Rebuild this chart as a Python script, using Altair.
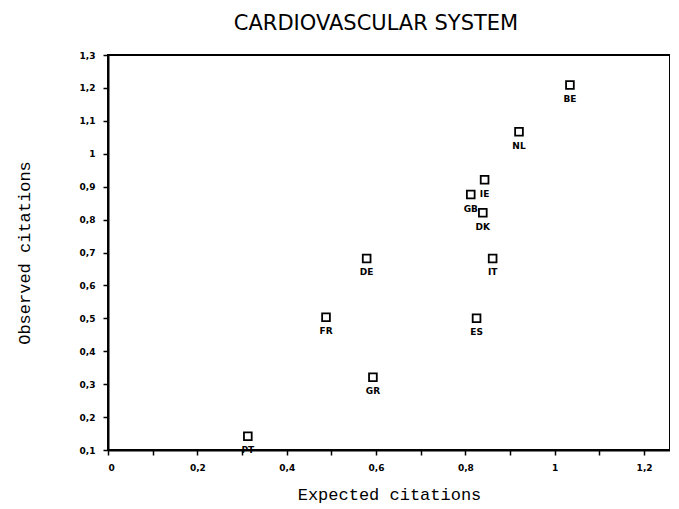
import altair as alt
import pandas as pd

countries = ["PT", "FR", "GR", "DE", "BE", "NL", "IE", "GB", "DK", "IT", "ES"]
expected = [0.313, 0.488, 0.593, 0.579, 1.034, 0.920, 0.843, 0.812, 0.839, 0.861, 0.825]
observed = [0.142, 0.503, 0.321, 0.682, 1.209, 1.067, 0.921, 0.876, 0.821, 0.682, 0.500]

x_ticks = [0, 0.1, 0.2, 0.3, 0.4, 0.5, 0.6, 0.7, 0.8, 0.9, 1.0, 1.1, 1.2]
y_ticks = [0.1, 0.2, 0.3, 0.4, 0.5, 0.6, 0.7, 0.8, 0.9, 1.0, 1.1, 1.2, 1.3]

df = pd.DataFrame({"country": countries, "expected": expected, "observed": observed})

mono = "Liberation Mono"

x = alt.X(
    "expected:Q",
    scale=alt.Scale(domain=[0, 1.258], nice=False, zero=False),
    axis=alt.Axis(
        title="Expected citations",
        values=x_ticks,
        labelExpr="round(datum.value*10)%2==0 ? replace(format(datum.value,'.1~f'),'.',',') : ''",
        labelOverlap=False,
        grid=False,
        domainColor="black",
        domainWidth=2,
        tickColor="black",
        tickWidth=1.5,
        tickSize=5,
        labelFont="DejaVu Sans",
        labelFontSize=9,
        labelFontWeight="bold",
        labelColor="black",
        labelPadding=8,
        titleFont=mono,
        titleFontSize=17,
        titleFontWeight="normal",
        titleColor="black",
        titleY=44,
        titleBaseline="middle",
    ),
)
y = alt.Y(
    "observed:Q",
    scale=alt.Scale(domain=[0.1, 1.3], nice=False, zero=False),
    axis=alt.Axis(
        title="Observed citations",
        values=y_ticks,
        labelExpr="replace(format(datum.value,'.1~f'),'.',',')",
        labelOverlap=False,
        grid=False,
        domainColor="black",
        domainWidth=2,
        tickColor="black",
        tickWidth=1.5,
        tickSize=5,
        labelFont="DejaVu Sans",
        labelFontSize=9,
        labelFontWeight="bold",
        labelColor="black",
        labelPadding=8,
        titleFont=mono,
        titleFontSize=17,
        titleFontWeight="normal",
        titleColor="black",
        titleX=-84,
        titleBaseline="middle",
    ),
)

base = alt.Chart(df)
points = base.mark_point(shape="square", filled=False, color="black", strokeWidth=1.8, size=60, opacity=1).encode(x=x, y=y)
labels = base.mark_text(dy=14, font="DejaVu Sans", fontSize=9, fontWeight="bold", color="black").encode(
    x=x, y=y, text="country:N"
)

chart = (
    alt.layer(points, labels)
    .properties(
        width=562,
        height=395,
        autosize=alt.AutoSizeParams(type="none"),
        padding={"left": 100, "top": 47, "right": 0, "bottom": 55},
        background="white",
        title=alt.TitleParams(
            "CARDIOVASCULAR SYSTEM",
            font="DejaVu Sans",
            fontSize=21,
            fontWeight="normal",
            color="black",
            anchor="middle",
            dx=-13,
            offset=17,
        ),
    )
    .configure_view(stroke="black", strokeWidth=2)
)

chart.save("out.html", embed_options={"renderer": "svg", "actions": False})
